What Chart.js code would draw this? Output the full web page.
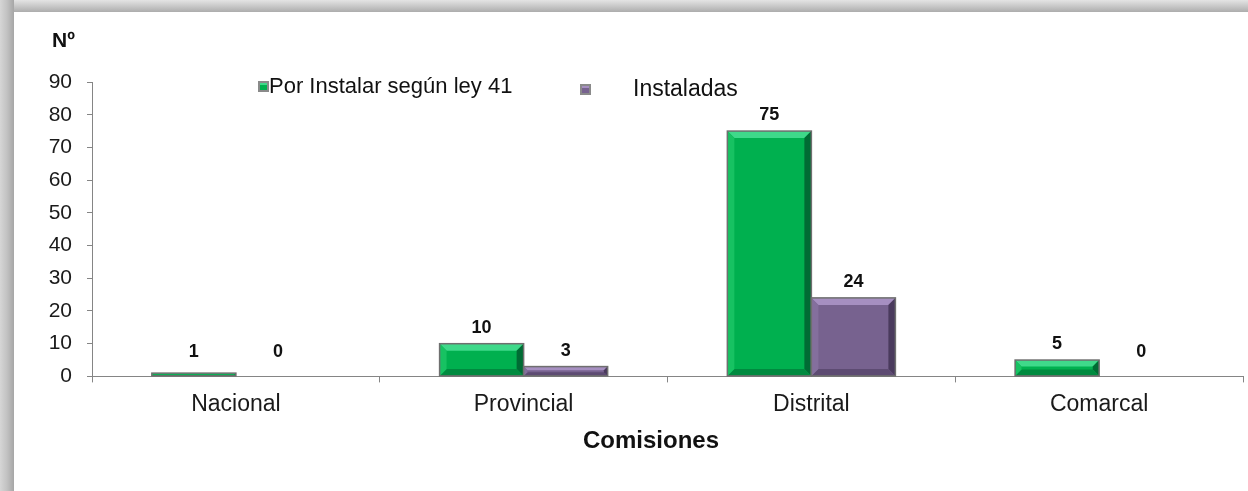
<!DOCTYPE html>
<html>
<head>
<meta charset="utf-8">
<script src="https://cdn.jsdelivr.net/npm/chart.js@4.4.0/dist/chart.umd.min.js"></script>
<style>
  body { margin: 0; background: #fff; width: 1248px; height: 491px; overflow: hidden; position: relative; }
  #edgeTop { position: absolute; left: 0; top: 0; width: 1248px; height: 12px; background: linear-gradient(to bottom, #e4e4e4, #adadad); }
  #edgeLeft { position: absolute; left: 0; top: 0; width: 14px; height: 491px; background: linear-gradient(to right, #d6d6d6, #c2c2c2 50%, #a6a6a6); }
  #chart { position: absolute; left: 14px; top: 12px; }
</style>
</head>
<body>
<div id="edgeTop"></div>
<div id="edgeLeft"></div>
<canvas id="chart" width="1234" height="479"></canvas>
<script>
const categories = ["Nacional", "Provincial", "Distrital", "Comarcal"];
const porInstalar = [1, 10, 75, 5];
const instaladas = [0, 3, 24, 0];
const seriesNames = ["Por Instalar según ley 41", "Instaladas"];
const yMin = 0, yMax = 90, yStep = 10;

const FONT = "'Liberation Sans', Arial, sans-serif";
const AXIS = "#858585";

// bevelled bars, drawn over the library's bar elements
const bevelPlugin = {
  id: "bevel",
  afterDatasetsDraw(chart) {
    const ctx = chart.ctx;
    chart.data.datasets.forEach((ds, di) => {
      const meta = chart.getDatasetMeta(di);
      const pal = ds.bevel;
      meta.data.forEach((bar, i) => {
        const p = bar.getProps(["x", "y", "base", "width"], true);
        const l = p.x - p.width / 2, r = p.x + p.width / 2;
        const t = Math.min(p.y, p.base), bt = Math.max(p.y, p.base);
        const h = bt - t;
        if (h >= 0.5) {
          const b = Math.min(7, h / 2.5, p.width / 6);
          const poly = (pts, c) => {
            ctx.beginPath();
            ctx.moveTo(pts[0][0], pts[0][1]);
            pts.slice(1).forEach(q => ctx.lineTo(q[0], q[1]));
            ctx.closePath();
            ctx.fillStyle = c;
            ctx.fill();
          };
          ctx.save();
          ctx.fillStyle = pal.face;
          ctx.fillRect(l, t, r - l, h);
          poly([[l, t], [r, t], [r - b, t + b], [l + b, t + b]], pal.light);
          poly([[r, t], [r, bt], [r - b, bt - b], [r - b, t + b]], pal.side);
          poly([[l, bt], [r, bt], [r - b, bt - b], [l + b, bt - b]], pal.bottom);
          poly([[l, t], [l + b, t + b], [l + b, bt - b], [l, bt]], pal.left);
          ctx.strokeStyle = "#6f6f6f";
          ctx.lineWidth = 1.5;
          ctx.strokeRect(l, t, r - l, h);
          ctx.restore();
        }
        // value label
        const v = ds.data[i];
        const ly = Math.min(t - 16, p.base - 24);
        ctx.save();
        ctx.font = "bold 18px " + FONT;
        ctx.fillStyle = "#111";
        ctx.textAlign = "center";
        ctx.textBaseline = "middle";
        ctx.fillText(String(v), p.x, ly);
        ctx.restore();
      });
    });
  },
  afterDraw(chart) {
    const ctx = chart.ctx;
    ctx.save();
    ctx.fillStyle = "#111";
    ctx.textBaseline = "middle";
    // axis unit
    ctx.font = "bold 21px " + FONT;
    ctx.fillText("Nº", 38, 29);
    // category axis title
    ctx.font = "bold 24px " + FONT;
    ctx.textAlign = "center";
    ctx.fillText("Comisiones", 637, 429);
    ctx.textAlign = "left";
    // legend
    const ds = chart.data.datasets;
    const items = [
      { sq: 244, tx: 255, size: 22, y: 75 },
      { sq: 566, tx: 619, size: 23, y: 78 }
    ];
    items.forEach((it, k) => {
      const pal = ds[k].bevel;
      ctx.fillStyle = "#8a8a8a";
      ctx.fillRect(it.sq, it.y - 6, 11, 11);
      ctx.fillStyle = pal.face;
      ctx.fillRect(it.sq + 2, it.y - 4, 7, 7);
      ctx.fillStyle = pal.light;
      ctx.fillRect(it.sq + 2, it.y - 4, 7, 2);
      ctx.font = it.size + "px " + FONT;
      ctx.fillStyle = "#111";
      ctx.fillText(ds[k].label, it.tx, it.y);
    });
    ctx.restore();
  }
};

new Chart(document.getElementById("chart"), {
  type: "bar",
  data: {
    labels: categories,
    datasets: [
      {
        label: seriesNames[0],
        data: porInstalar,
        backgroundColor: "rgba(0,0,0,0)",
        borderWidth: 0,
        bevel: { face: "#00b04f", light: "#3fd98a", side: "#006b34", bottom: "#008a3f", left: "#17c262" }
      },
      {
        label: seriesNames[1],
        data: instaladas,
        backgroundColor: "rgba(0,0,0,0)",
        borderWidth: 0,
        bevel: { face: "#77628f", light: "#a68fc1", side: "#4a3a5d", bottom: "#5d4b72", left: "#846f9d" }
      }
    ]
  },
  options: {
    responsive: false,
    animation: false,
    devicePixelRatio: 1,
    layout: { padding: { top: 70, right: 5, bottom: 65, left: 0 } },
    datasets: { bar: { categoryPercentage: 0.584, barPercentage: 1 } },
    plugins: {
      legend: { display: false },
      tooltip: { enabled: false }
    },
    scales: {
      x: {
        grid: { drawOnChartArea: false, tickLength: 6, color: AXIS, offset: true },
        border: { color: AXIS, width: 1 },
        ticks: { font: { family: FONT, size: 23 }, color: "#1a1a1a", padding: 8 }
      },
      y: {
        min: yMin,
        max: yMax,
        afterFit: s => { s.width = 78; },
        grid: { drawOnChartArea: false, tickLength: 5, color: AXIS },
        border: { color: AXIS, width: 1 },
        ticks: { stepSize: yStep, font: { family: FONT, size: 21 }, color: "#1a1a1a", padding: 15 }
      }
    }
  },
  plugins: [bevelPlugin]
});
</script>
</body>
</html>
